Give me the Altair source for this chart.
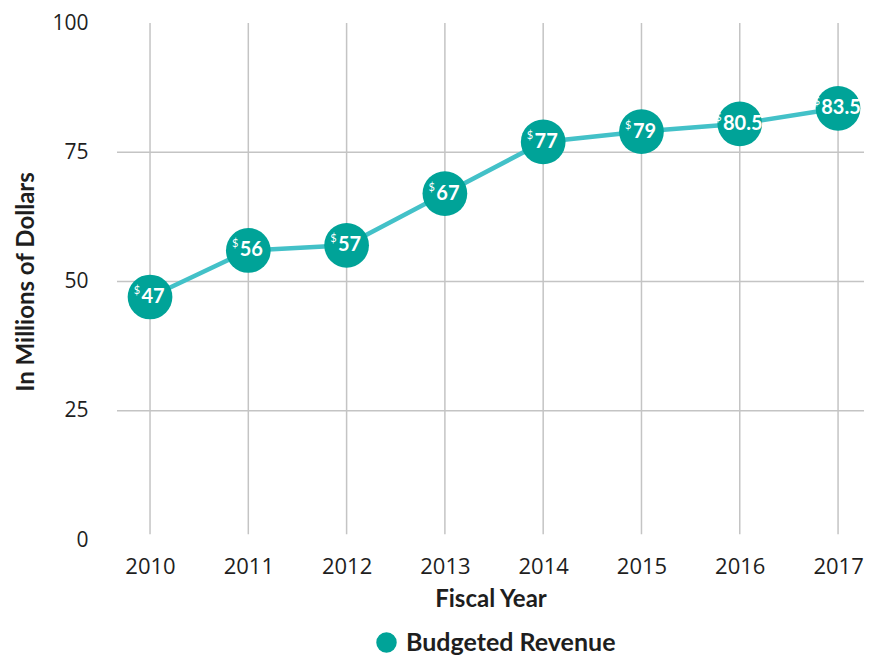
import altair as alt
import pandas as pd

years = [2010, 2011, 2012, 2013, 2014, 2015, 2016, 2017]
revenue = [47, 56, 57, 67, 77, 79, 80.5, 83.5]
labels = ["47", "56", "57", "67", "77", "79", "80.5", "83.5"]
y_ticks = [0, 25, 50, 75, 100]
h_grid = [25, 50, 75]
series_name = "Budgeted Revenue"

TEAL = "#00A398"
LINE = "#43C1C8"
GRID = "#C4C4C4"
TXT = "#1E1E1E"

df = pd.DataFrame({"year": years, "value": revenue, "label": labels,
                   "series": [series_name] * len(years)})
vgrid = pd.DataFrame({"year": years, "top": [100] * len(years), "bot": [1.1] * len(years)})
hgrid = pd.DataFrame({"v": h_grid})

xdom = [2009.664, 2017.264]
xscale = alt.Scale(domain=xdom, nice=False, zero=False)
yscale = alt.Scale(domain=[0, 100], nice=False)

x_axis = alt.Axis(values=years, format="d", domain=False, ticks=False, grid=False,
                  labelFont="Open Sans", labelFontSize=22, labelColor=TXT, labelPadding=16,
                  title="Fiscal Year", titleFont="Lato", titleFontSize=24, titleFontWeight="bold",
                  titleColor=TXT, titlePadding=10)
y_axis = alt.Axis(values=y_ticks, domain=False, ticks=False, grid=False,
                  labelFont="Open Sans", labelFontSize=21, labelColor=TXT, labelPadding=29,
                  title="In Millions of Dollars", titleFont="Lato", titleFontSize=24,
                  titleFontWeight="bold", titleColor=TXT, titlePadding=13)

vrules = alt.Chart(vgrid).mark_rule(color=GRID, strokeWidth=1.5).encode(
    x=alt.X("year:Q", scale=xscale, axis=x_axis),
    y=alt.Y("top:Q", scale=yscale, axis=y_axis),
    y2="bot:Q",
)
hrules = alt.Chart(hgrid).mark_rule(color=GRID, strokeWidth=1.5).encode(
    y=alt.Y("v:Q", scale=yscale),
)

base = alt.Chart(df).encode(
    x=alt.X("year:Q", scale=xscale),
    y=alt.Y("value:Q", scale=yscale),
)
line = base.mark_line(color=LINE, strokeWidth=4.5)
points = base.mark_circle(opacity=1, size=2000).encode(
    color=alt.Color("series:N", scale=alt.Scale(range=[TEAL]),
                    legend=alt.Legend(title=None, orient="none", legendX=257, legendY=607,
                                      symbolType="circle", symbolSize=420, labelLimit=400,
                                      labelFont="Lato", labelFontSize=25, labelFontWeight="bold",
                                      labelColor=TXT, symbolOpacity=1, labelOffset=7))
)
num_text = base.mark_text(color="white", font="Lato", fontSize=20, fontWeight="bold",
                          align="center", baseline="middle", dx=3).encode(text="label:N")
dollar = alt.Chart(df).transform_calculate(
    w="length(datum.label) == 2 ? 24 : 40",
).transform_calculate(
    dx_year="datum.year + (2 - datum.w / 2) / 98.29"
).mark_text(color="white", font="Lato", fontSize=11, align="right", baseline="middle",
            dy=-6).encode(
    x=alt.X("dx_year:Q", scale=xscale),
    y=alt.Y("value:Q", scale=yscale),
    text=alt.value("$"),
)

chart = alt.layer(hrules, vrules, line, points, num_text, dollar).properties(
    width=747, height=517,
    autosize=alt.AutoSizeParams(type="none"),
    padding={"left": 109, "top": 15, "right": 0, "bottom": 116},
).configure_view(stroke=None)

chart.save("out.html", embed_options={"renderer": "svg", "actions": False})
